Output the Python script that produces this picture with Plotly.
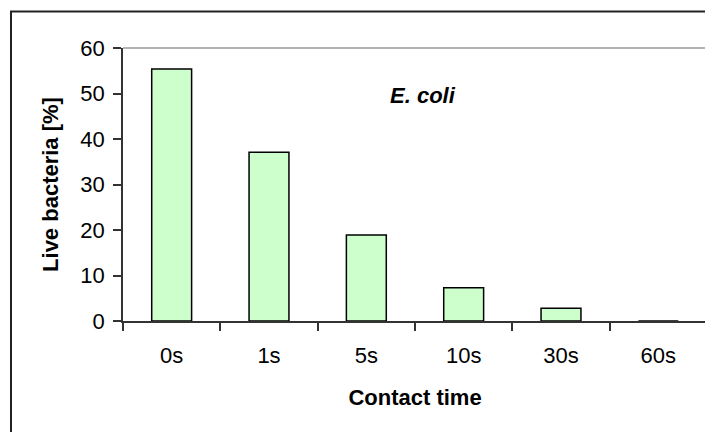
import plotly.graph_objects as go

categories = ["0s", "1s", "5s", "10s", "30s", "60s"]
live_bacteria = [55.4, 37.1, 18.9, 7.3, 2.8, 0]
y_ticks = [0, 10, 20, 30, 40, 50, 60]

FONT = "Liberation Sans, Arial, sans-serif"

fig = go.Figure(
    go.Bar(
        x=categories,
        y=live_bacteria,
        width=0.41,
        marker=dict(color="#CCFFCC", line=dict(color="#000000", width=1.5)),
    )
)

fig.update_layout(
    width=713,
    height=432,
    margin=dict(l=115, r=14, t=40, b=119),
    paper_bgcolor="white",
    plot_bgcolor="white",
    showlegend=False,
    font=dict(family=FONT, size=22, color="black"),
    xaxis=dict(
        type="category",
        tickson="boundaries",
        ticks="outside",
        ticklen=8,
        tickwidth=1.5,
        tickcolor="#333333",
        showline=True,
        linecolor="#333333",
        linewidth=1.5,
        showgrid=False,
        tickfont=dict(size=22),
        ticklabelstandoff=14,
        title=dict(text="<b>Contact time</b>", font=dict(size=22), standoff=22),
    ),
    yaxis=dict(
        range=[0, 60],
        tickvals=y_ticks,
        ticks="outside",
        ticklen=8,
        tickwidth=1.5,
        tickcolor="#333333",
        showline=True,
        linecolor="#333333",
        linewidth=1.5,
        showgrid=False,
        zeroline=False,
        tickfont=dict(size=22),
        ticklabelstandoff=4,
        title=dict(text="<b>Live bacteria [%]</b>", font=dict(size=22), standoff=16),
    ),
    shapes=[
        dict(type="line", xref="paper", yref="paper", x0=0, x1=1, y0=1, y1=1,
             line=dict(color="#999999", width=1.5)),
        dict(type="line", xref="paper", yref="paper", x0=1, x1=1, y0=0, y1=1,
             line=dict(color="#999999", width=1.5)),
        dict(type="rect", xref="paper", yref="paper", x0=-0.1918, x1=1.5, y0=-1.0, y1=1.1335,
             line=dict(color="#222222", width=2)),
    ],
    annotations=[
        dict(text="<b><i>E. coli</i></b>", xref="paper", yref="paper",
             x=0.5137, y=0.825, xanchor="center", yanchor="middle",
             showarrow=False, font=dict(size=22, color="black")),
    ],
)

fig.write_html("out.html")
